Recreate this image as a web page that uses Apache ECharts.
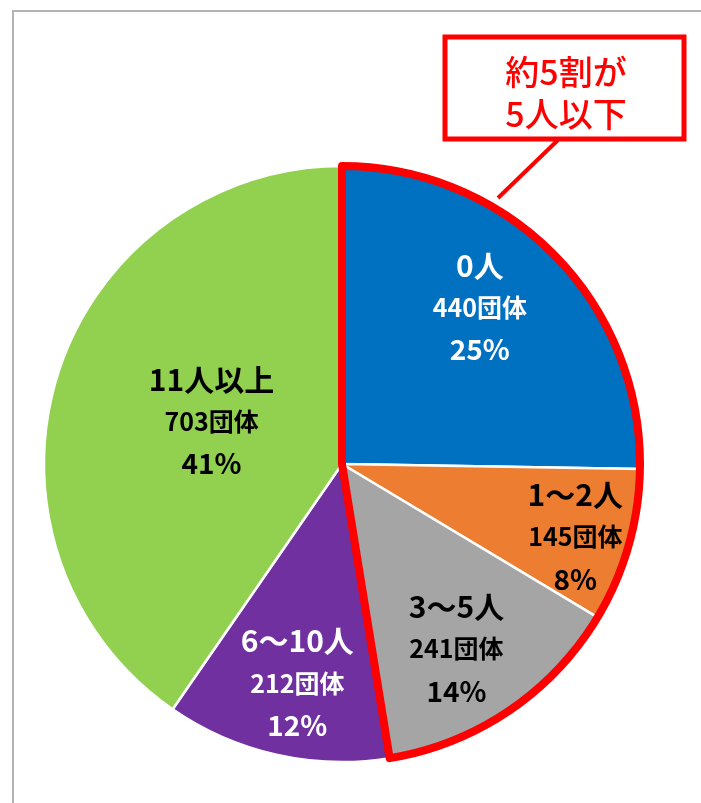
<!DOCTYPE html>
<html>
<head>
<meta charset="utf-8">
<script src="https://cdn.jsdelivr.net/npm/echarts@6/dist/echarts.min.js"></script>
<style>
  html, body { margin: 0; padding: 0; background: #fff; }
  #main { width: 701px; height: 803px; }
</style>
</head>
<body>
<div id="main"></div>
<script>
// 人数区分ごとの団体数
var categories = ['0人', '1～2人', '3～5人', '6～10人', '11人以上'];
var counts = [440, 145, 241, 212, 703];
var percents = [25, 8, 14, 12, 41];
// 赤枠で囲む区分（5人以下）
var groupSize = 3;
var calloutLines = ['約5割が', '5人以下'];

var colors = ['#0070C0', '#ED7D31', '#A5A5A5', '#7030A0', '#92D050'];
var labelColors = ['#fff', '#000', '#000', '#fff', '#000'];
// ラベル位置の調整（半径の割合・角度のずれ）
var labelRadius = [0.69, 0.81, 0.72, 0.74, 0.45];
var labelTurn = [4.2, -1.4, -2.4, 1.2, -0.6];

var CX = 342, CY = 464, R = 298;
var FONT = '"Noto Sans CJK JP", sans-serif';

var chart = echarts.init(document.getElementById('main'));

var total = counts.reduce(function (a, b) { return a + b; }, 0);
var groupTotal = counts.slice(0, groupSize).reduce(function (a, b) { return a + b; }, 0);

var pieData = [];
for (var i = 0; i < categories.length; i++) {
  pieData.push({
    name: categories[i],
    value: counts[i],
    itemStyle: { color: colors[i] },
    label: {
      formatter: '{a|' + categories[i] + '}\n{b|' + counts[i] + '団体}\n{c|' + percents[i] + '%}',
      rich: {
        a: { color: labelColors[i], fontSize: 30, fontWeight: 'bold', fontFamily: FONT, lineHeight: 42 },
        b: { color: labelColors[i], fontSize: 25, fontWeight: 'bold', fontFamily: FONT, lineHeight: 42 },
        c: { color: labelColors[i], fontSize: 28, fontWeight: 'bold', fontFamily: FONT, lineHeight: 42 }
      }
    }
  });
}

function midAngle(idx) {
  var cum = 0;
  for (var k = 0; k < idx; k++) cum += counts[k];
  cum += counts[idx] / 2;
  return Math.PI / 2 - 2 * Math.PI * cum / total;
}

var option = {
  animation: false,
  backgroundColor: '#fff',
  graphic: [
    {
      type: 'rect',
      shape: { x: 13, y: 11, width: 760, height: 860 },
      style: { fill: 'none', stroke: '#b4b4b4', lineWidth: 2 },
      z: 0
    },
    {
      type: 'line',
      shape: { x1: 558, y1: 140, x2: 498, y2: 198 },
      style: { stroke: '#ff0000', lineWidth: 4 },
      z: 10
    },
    {
      type: 'rect',
      shape: { x: 445, y: 37, width: 239, height: 102 },
      style: { fill: '#fff', stroke: '#ff0000', lineWidth: 5 },
      z: 10
    },
    {
      type: 'text',
      x: 566, y: 93,
      style: {
        text: calloutLines.join('\n'),
        fill: '#ff0000',
        font: '500 34px ' + FONT,
        lineHeight: 42,
        align: 'center',
        verticalAlign: 'middle'
      },
      z: 11
    }
  ],
  series: [
    {
      type: 'pie',
      center: [CX, CY],
      radius: [0, R],
      startAngle: 90,
      clockwise: true,
      silent: true,
      itemStyle: { borderColor: '#fff', borderWidth: 2.5 },
      label: { show: true, position: 'inside', align: 'center' },
      labelLine: { show: false },
      labelLayout: function (params) {
        var idx = params.dataIndex;
        var a0 = midAngle(idx);
        var a1 = a0 + labelTurn[idx] * Math.PI / 180;
        var f = labelRadius[idx];
        return {
          dx: f * R * Math.cos(a1) - 0.5 * R * Math.cos(a0),
          dy: -f * R * Math.sin(a1) + 0.5 * R * Math.sin(a0)
        };
      },
      data: pieData,
      z: 2
    },
    {
      // 5人以下の赤枠
      type: 'pie',
      center: [CX, CY],
      radius: [0, R],
      startAngle: 90,
      clockwise: true,
      silent: true,
      label: { show: false },
      labelLine: { show: false },
      data: [
        { value: groupTotal, itemStyle: { color: 'rgba(0,0,0,0)', borderColor: '#ff0000', borderWidth: 8, borderJoin: 'round' } },
        { value: total - groupTotal, itemStyle: { color: 'rgba(0,0,0,0)', borderWidth: 0 } }
      ],
      z: 5
    }
  ]
};

chart.setOption(option);
</script>
</body>
</html>
